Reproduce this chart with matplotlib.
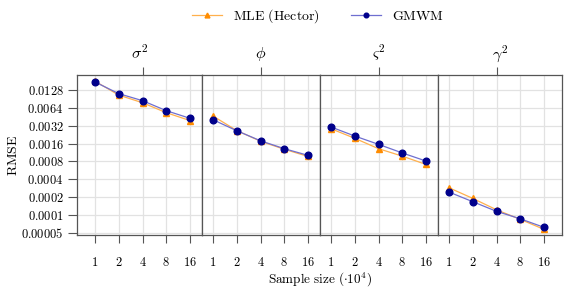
import numpy as np
import matplotlib
matplotlib.use("Agg")
import matplotlib.pyplot as plt
from matplotlib.ticker import FixedLocator, NullFormatter

plt.rcParams['mathtext.fontset'] = 'cm'
plt.rcParams['font.family'] = 'serif'
plt.rcParams['font.serif'] = ['DejaVu Serif']

# data
sample_sizes = ['1', '2', '4', '8', '16']
params = [r'$\sigma^2$', r'$\phi$', r'$\varsigma^2$', r'$\gamma^2$']

mle_sigma2 = [0.0180, 0.0105, 0.0078, 0.0053, 0.0039]
gmwm_sigma2 = [0.01745, 0.0111, 0.00845, 0.00573, 0.00426]
mle_phi = [0.00465, 0.00265, 0.00175, 0.00128, 0.00097]
gmwm_phi = [0.00403, 0.00263, 0.00178, 0.00131, 0.00101]
mle_vsig = [0.00284, 0.00196, 0.00131, 0.00098, 0.00071]
gmwm_vsig = [0.00304, 0.00214, 0.00155, 0.00111, 0.00081]
mle_gamma2 = [0.000287, 0.000190, 0.000122, 0.0000842, 0.0000570]
gmwm_gamma2 = [0.000243, 0.000167, 0.000115, 0.0000860, 0.0000617]

mle = [mle_sigma2, mle_phi, mle_vsig, mle_gamma2]
gmwm = [gmwm_sigma2, gmwm_phi, gmwm_vsig, gmwm_gamma2]

yticks = [0.00005, 0.0001, 0.0002, 0.0004, 0.0008, 0.0016, 0.0032, 0.0064, 0.0128]
ytick_labels = ['0.00005', '0.0001', '0.0002', '0.0004', '0.0008',
                '0.0016', '0.0032', '0.0064', '0.0128']

W, H = 578, 298
fig = plt.figure(figsize=(W / 100, H / 100), dpi=100)

# panel edges in pixels, and where sample size "1" sits in each
edges = [(77, 202), (202, 320), (320, 438), (438, 562)]
first_pt = [95, 213, 331, 449]
step = 23.75
top_px, bot_px = 75, 235.3

edge_col = '#555555'
grid_col = '#e2e2e2'

x = np.arange(len(sample_sizes))
axes = []
for i, ((l, r), p0) in enumerate(zip(edges, first_pt)):
    ax = fig.add_axes([l / W, 1 - bot_px / H, (r - l) / W, (bot_px - top_px) / H])
    ax.set_yscale('log', base=2)
    ax.set_ylim(0.0000453, 0.0229)
    ax.set_xlim((l - p0) / step, (r - p0) / step)

    ax.plot(x, mle[i], color='#ffb04d', lw=0.9, marker='^', ms=5,
            mfc='#ff8c00', mec='#ff8c00', zorder=3)
    ax.plot(x, gmwm[i], color='#6f6fd0', lw=0.9, marker='o', ms=4.8,
            mfc='#00008b', mec='#00008b', zorder=4)

    ax.yaxis.set_major_locator(FixedLocator(yticks))
    ax.yaxis.set_minor_locator(FixedLocator([]))
    ax.set_xticks(x)
    ax.set_xticklabels([r'$\mathrm{%s}$' % s for s in sample_sizes], fontsize=9)
    ax.grid(True, color=grid_col, lw=0.9)
    ax.set_axisbelow(True)
    ax.tick_params(axis='x', length=6, width=0.8, color=edge_col, pad=9)
    if i == 0:
        ax.set_yticklabels([r'$\mathrm{%s}$' % s for s in ytick_labels], fontsize=9)
        ax.tick_params(axis='y', length=6.5, width=0.8, color=edge_col, pad=3)
    else:
        ax.yaxis.set_major_formatter(NullFormatter())
        ax.tick_params(axis='y', length=0)
    for s in ax.spines.values():
        s.set_color(edge_col)
        s.set_linewidth(0.9)

    sec = ax.secondary_xaxis('top')
    sec.set_xticks([2])
    sec.set_xticklabels([])
    sec.tick_params(length=6, width=0.8, color=edge_col)
    sec.spines['top'].set_visible(False)
    ax.set_title(params[i], fontsize=11.5, pad=12)
    axes.append(ax)

fig.text(0.022, 1 - 155 / H, r'$\mathrm{RMSE}$', rotation=90, ha='center',
         va='center', fontsize=10)
fig.text(319.5 / W, 1 - 280 / H, r'$\mathrm{Sample\ size\ }(\cdot 10^4)$',
         ha='center', va='center', fontsize=9.5)

h1, = axes[0].plot([], [], color='#ffb04d', lw=0.9, marker='^', ms=5,
                   mfc='#ff8c00', mec='#ff8c00')
h2, = axes[0].plot([], [], color='#6f6fd0', lw=0.9, marker='o', ms=4.8,
                   mfc='#00008b', mec='#00008b')
fig.legend([h1, h2], [r'$\mathrm{MLE\ (Hector)}$', r'$\mathrm{GMWM}$'],
           loc='center', bbox_to_anchor=(318 / W, 1 - 16 / H), ncol=2,
           frameon=False, fontsize=10, handlelength=2.2, columnspacing=2.2,
           handletextpad=0.8, markerscale=0.7)

fig.savefig('out.png', dpi=100)
